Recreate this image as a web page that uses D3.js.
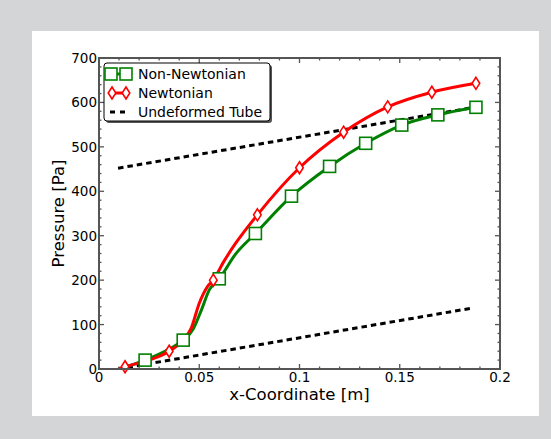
<!DOCTYPE html>
<html>
<head>
  <meta charset="utf-8">
  <script src="https://d3js.org/d3.v7.min.js"></script>
</head>
<style>
  body { margin: 0; background: #d4d5d7; }
  text { font-family: "DejaVu Sans", sans-serif; fill: #000; }
</style>
<body>
  <svg id="chart"></svg>
</body>
<script>
  var w = 551;
  var h = 439;
  var plot = {left: 99, right: 500, top: 58, bottom: 369};

  // Non-Newtonian curve samples (x in m, pressure in Pa)
  var nonNewtX = [0.010, 0.023, 0.035, 0.042, 0.047, 0.051, 0.055, 0.060, 0.068, 0.078, 0.096, 0.115, 0.133, 0.151, 0.169, 0.188];
  var nonNewtY = [0, 20, 45, 65, 90, 132, 178, 203, 258, 305, 389, 456, 508, 549, 572, 589];
  var nonNewtMarks = [1, 3, 7, 9, 10, 11, 12, 13, 14, 15];

  // Newtonian curve samples
  var newtX = [0.010, 0.013, 0.025, 0.035, 0.042, 0.046, 0.050, 0.054, 0.057, 0.062, 0.068, 0.079, 0.100, 0.122, 0.144, 0.166, 0.188];
  var newtY = [0, 5, 20, 40, 65, 92, 148, 185, 200, 240, 282, 347, 453, 533, 590, 623, 643];
  var newtMarks = [1, 3, 8, 11, 12, 13, 14, 15, 16];

  // undeformed tube lines
  var tubeX = [0.0095, 0.186];
  var tubeUpperY = [452, 588];
  var tubeLowerY = [0, 137];

  var xTicks = [0, 0.05, 0.1, 0.15, 0.2];
  var yTicks = [0, 100, 200, 300, 400, 500, 600, 700];
  var legendLabels = ["Non-Newtonian", "Newtonian", "Undeformed Tube"];

  var svg = d3.select("svg#chart")
      .attr("width", w)
      .attr("height", h);

  svg.append("rect")
      .attr("x", 32).attr("y", 31)
      .attr("width", 507).attr("height", 385)
      .attr("fill", "#fff");

  var x = d3.scaleLinear().domain([0, 0.2]).range([plot.left, plot.right]);
  var y = d3.scaleLinear().domain([0, 700]).range([plot.bottom, plot.top]);

  svg.append("clipPath").attr("id", "clip")
    .append("rect")
      .attr("x", plot.left).attr("y", plot.top - 8)
      .attr("width", plot.right - plot.left).attr("height", plot.bottom - plot.top + 8);

  var g = svg.append("g").attr("clip-path", "url(#clip)");

  var line = d3.line()
      .x(function(d){ return x(d[0]); })
      .y(function(d){ return y(d[1]); })
      .curve(d3.curveMonotoneX);

  var tubeLine = d3.line()
      .x(function(d){ return x(d[0]); })
      .y(function(d){ return y(d[1]); });

  // dashed tube lines
  [tubeUpperY, tubeLowerY].forEach(function(ys){
    g.append("path")
        .datum(tubeX.map(function(v, i){ return [v, ys[i]]; }))
        .attr("d", tubeLine)
        .attr("fill", "none")
        .attr("stroke", "#000")
        .attr("stroke-width", 3)
        .attr("stroke-dasharray", "5.5,4");
  });

  var green = "#008000";
  var red = "#ff0000";

  var nonNewt = nonNewtX.map(function(v, i){ return [v, nonNewtY[i]]; });
  var newt = newtX.map(function(v, i){ return [v, newtY[i]]; });

  g.append("path").datum(nonNewt).attr("d", line)
      .attr("fill", "none").attr("stroke", green).attr("stroke-width", 3);
  g.append("path").datum(newt).attr("d", line)
      .attr("fill", "none").attr("stroke", red).attr("stroke-width", 3);

  function square(sel, cx, cy){
    sel.append("rect")
        .attr("x", cx - 6).attr("y", cy - 6)
        .attr("width", 12).attr("height", 12)
        .attr("fill", "#fff").attr("stroke", green).attr("stroke-width", 1.6);
  }
  function diamond(sel, cx, cy){
    sel.append("path")
        .attr("d", "M" + cx + "," + (cy - 6) + "L" + (cx + 3.8) + "," + cy + "L" + cx + "," + (cy + 6) + "L" + (cx - 3.8) + "," + cy + "Z")
        .attr("fill", "#fff").attr("stroke", red).attr("stroke-width", 1.6);
  }

  var marks = svg.append("g");
  nonNewtMarks.forEach(function(i){ square(marks, x(nonNewtX[i]), y(nonNewtY[i])); });
  newtMarks.forEach(function(i){ diamond(marks, x(newtX[i]), y(newtY[i])); });

  // frame + ticks
  var axisColor = "#555";
  var frame = svg.append("g");
  frame.append("rect")
      .attr("x", plot.left).attr("y", plot.top)
      .attr("width", plot.right - plot.left).attr("height", plot.bottom - plot.top)
      .attr("fill", "none").attr("stroke", axisColor).attr("stroke-width", 2);

  var xMinor = d3.range(0, 0.2001, 0.01);
  var yMinor = d3.range(0, 700.1, 20);
  xMinor.forEach(function(v){
    var major = xTicks.some(function(t){ return Math.abs(t - v) < 1e-6; });
    var len = major ? 5 : 2.5;
    frame.append("line").attr("x1", x(v)).attr("x2", x(v))
        .attr("y1", plot.bottom).attr("y2", plot.bottom - len)
        .attr("stroke", axisColor).attr("stroke-width", 1.3);
    frame.append("line").attr("x1", x(v)).attr("x2", x(v))
        .attr("y1", plot.top).attr("y2", plot.top + len)
        .attr("stroke", axisColor).attr("stroke-width", 1.3);
  });
  yMinor.forEach(function(v){
    var major = yTicks.indexOf(Math.round(v)) >= 0;
    var len = major ? 5 : 2.5;
    frame.append("line").attr("y1", y(v)).attr("y2", y(v))
        .attr("x1", plot.left).attr("x2", plot.left + len)
        .attr("stroke", axisColor).attr("stroke-width", 1.3);
    frame.append("line").attr("y1", y(v)).attr("y2", y(v))
        .attr("x1", plot.right).attr("x2", plot.right - len)
        .attr("stroke", axisColor).attr("stroke-width", 1.3);
  });

  svg.append("g").selectAll("text").data(xTicks).enter().append("text")
      .attr("x", function(d){ return x(d); })
      .attr("y", plot.bottom + 13)
      .attr("text-anchor", "middle")
      .style("font-size", "13.5px")
      .text(function(d){ return String(d); });

  svg.append("g").selectAll("text").data(yTicks).enter().append("text")
      .attr("x", plot.left - 2)
      .attr("y", function(d){ return y(d) + 5; })
      .attr("text-anchor", "end")
      .style("font-size", "13.5px")
      .text(function(d){ return String(d); });

  svg.append("text")
      .attr("x", (plot.left + plot.right) / 2)
      .attr("y", 400)
      .attr("text-anchor", "middle")
      .style("font-size", "16.5px")
      .text("x-Coordinate [m]");

  svg.append("text")
      .attr("transform", "translate(64," + ((plot.top + plot.bottom) / 2) + ") rotate(-90)")
      .attr("text-anchor", "middle")
      .style("font-size", "16.5px")
      .text("Pressure [Pa]");

  // legend
  var leg = svg.append("g");
  leg.append("rect")
      .attr("x", 106).attr("y", 65).attr("width", 166).attr("height", 58)
      .attr("rx", 3).attr("fill", "#555");
  leg.append("rect")
      .attr("x", 104).attr("y", 63).attr("width", 166).attr("height", 58)
      .attr("rx", 3).attr("fill", "#fff").attr("stroke", "#000").attr("stroke-width", 1);

  var rows = [74, 93, 112];
  leg.append("line").attr("x1", 111).attr("x2", 126).attr("y1", rows[0]).attr("y2", rows[0])
      .attr("stroke", green).attr("stroke-width", 3);
  square(leg, 111, rows[0]);
  square(leg, 126, rows[0]);
  leg.append("line").attr("x1", 112).attr("x2", 126).attr("y1", rows[1]).attr("y2", rows[1])
      .attr("stroke", red).attr("stroke-width", 3);
  diamond(leg, 112, rows[1]);
  diamond(leg, 126, rows[1]);
  leg.append("line").attr("x1", 110).attr("x2", 126).attr("y1", rows[2]).attr("y2", rows[2])
      .attr("stroke", "#000").attr("stroke-width", 3).attr("stroke-dasharray", "5,5");

  leg.selectAll("text.lab").data(legendLabels).enter().append("text")
      .attr("class", "lab")
      .attr("x", 138)
      .attr("y", function(d, i){ return rows[i] + 5; })
      .style("font-size", "14px")
      .text(function(d){ return d; });
</script>
</html>
